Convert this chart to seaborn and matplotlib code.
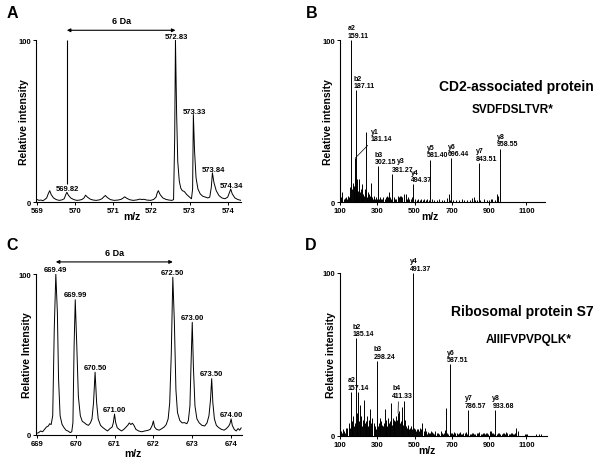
import matplotlib
matplotlib.use("Agg")
import matplotlib.pyplot as plt
import seaborn as sns

sns.set_theme(style="ticks", rc={"text.color": "black", "axes.labelcolor": "black",
                                 "xtick.color": "black", "ytick.color": "black",
                                 "axes.edgecolor": "black"})
plt.rcParams["font.family"] = ["Liberation Sans", "DejaVu Sans"]
plt.rcParams["font.weight"] = "bold"

# ---------------- panel A : MS profile, light/heavy pair (CD2-associated protein)
a_mz = [569.00, 569.05, 569.10, 569.15, 569.20, 569.25, 569.29, 569.33, 569.37, 569.43,
        569.50, 569.58, 569.65, 569.71, 569.75, 569.78, 569.82, 569.88, 569.96, 570.04,
        570.12, 570.18, 570.23, 570.27, 570.32, 570.39, 570.47, 570.55, 570.63, 570.70,
        570.75, 570.79, 570.84, 570.92, 571.02, 571.12, 571.20, 571.26, 571.30, 571.35,
        571.43, 571.52, 571.62, 571.70, 571.75, 571.80, 571.88, 571.98, 572.06, 572.12,
        572.15, 572.18, 572.23, 572.30, 572.38, 572.46, 572.54, 572.58, 572.61, 572.63,
        572.66, 572.69, 572.73, 572.77, 572.81, 572.86, 572.93, 573.00, 573.05, 573.08,
        573.10, 573.13, 573.17, 573.22, 573.28, 573.35, 573.42, 573.48, 573.53, 573.57,
        573.60, 573.64, 573.70, 573.77, 573.85, 573.93, 574.00, 574.05, 574.08, 574.12,
        574.19, 574.27, 574.35]
a_int = [1.5, 1.0, 1.2, 0.8, 1.5, 2.5, 5.0, 7.0, 4.5, 2.5,
         1.5, 1.0, 1.3, 2.0, 4.5, 6.0, 4.2, 2.5, 1.5, 1.0,
         1.2, 1.6, 2.5, 4.2, 3.0, 1.8, 1.2, 1.0, 1.3, 2.0,
         3.2, 4.0, 2.8, 1.5, 1.0, 1.2, 1.6, 2.5, 3.2, 2.3,
         1.4, 1.0, 1.3, 1.8, 1.5, 1.7, 1.2, 1.0, 1.6, 3.0,
         5.5, 7.0, 4.5, 2.5, 1.6, 1.2, 1.0, 1.5, 40, 100,
         55, 25, 13, 8.5, 7.0, 6.5, 4.5, 3.0, 2.0, 8,
         54, 32, 15, 8, 5, 3.5, 3.0, 2.5, 3.0, 9,
         18, 12, 7, 4, 2.5, 2.0, 3.0, 6.0, 8.0, 5.0,
         2.5, 1.5, 1.0]
a_peak_text = ["569.82", "572.83", "573.33", "573.84", "574.34"]
a_peak_mz = [569.78, 572.63, 573.10, 573.60, 574.08]
a_peak_int = [6, 100, 54, 18, 8]
a_ticks = [569, 570, 571, 572, 573, 574]

# ---------------- panel B : MS/MS sticks, SVDFDSLTVR*
b_mz = [112, 159.11, 181.14, 187.11, 193, 204, 218, 238, 250, 265,
        281, 302.15, 365, 381.27, 410, 428, 452, 494.37, 581.40, 683,
        696.44, 820, 843.51, 910, 945, 958.55]
b_int = [6, 100, 27, 69, 14, 14, 11, 43, 6, 12,
         4, 22, 6, 17, 4, 4, 5, 11, 26, 5,
         27, 3, 24, 2, 5, 33]
b_noise_mz = [104, 108, 121, 127, 133, 139, 143, 147, 151, 155,
              165, 169, 173, 177, 184, 190, 196, 200, 207, 211,
              214, 222, 226, 230, 234, 243, 247, 254, 258, 262,
              270, 274, 278, 286, 291, 296, 308, 313, 320, 327,
              333, 340, 346, 352, 358, 362, 369, 374, 389, 395,
              402, 416, 422, 435, 441, 446, 458, 465, 472, 480,
              487, 505, 512, 520, 528, 536, 545, 553, 560, 568,
              575, 592, 604, 618, 630, 645, 660, 672, 690, 705,
              720, 738, 752, 768, 780, 795, 808, 825, 835, 852,
              870, 888, 900, 918, 930, 940, 950]
b_noise_int = [2, 3, 2, 2.5, 3, 2, 4, 3, 9, 5,
               8, 12, 10, 6, 9, 5, 7, 4, 6, 8,
               3, 5, 3, 4, 8, 3, 2, 5, 3, 4,
               2, 3, 2, 2, 3, 2, 2, 3, 2, 2,
               3, 2, 3, 4, 3, 5, 3, 2, 3, 2,
               2, 3, 4, 3, 2, 5, 2, 3, 2, 2,
               3, 2, 1.5, 2, 1.5, 2, 1.5, 2, 1.5, 2,
               1.5, 2, 1, 1.5, 2, 1, 1.5, 2.5, 1, 1.5,
               1, 1.5, 2, 1.5, 1, 1.5, 2.5, 1.5, 1, 1.5,
               2, 1, 1.5, 2, 1.5, 1, 4]
b_ion = ["a2", "b2", "b3", "y4", "y5", "y6", "y7", "y8"]
b_ion_text = ["159.11", "187.11", "302.15", "494.37", "581.40", "696.44", "843.51", "958.55"]
b_ion_mz = [159.11, 187.11, 302.15, 494.37, 581.40, 696.44, 843.51, 958.55]
b_ion_int = [100, 69, 22, 11, 26, 27, 24, 33]
b_ticks = [100, 300, 500, 700, 900, 1100]

# ---------------- panel C : MS profile, light/heavy pair (ribosomal protein S7)
c_mz = [669.00, 669.05, 669.10, 669.15, 669.20, 669.25, 669.30, 669.33, 669.37, 669.41,
        669.45, 669.49, 669.53, 669.56, 669.60, 669.65, 669.70, 669.75, 669.80, 669.86,
        669.90, 669.93, 669.96, 669.99, 670.03, 670.07, 670.12, 670.17, 670.22, 670.28,
        670.33, 670.38, 670.42, 670.46, 670.50, 670.54, 670.58, 670.64, 670.70, 670.76,
        670.82, 670.88, 670.94, 670.97, 671.00, 671.03, 671.07, 671.12, 671.18, 671.24,
        671.30, 671.34, 671.38, 671.42, 671.46, 671.50, 671.55, 671.62, 671.70, 671.78,
        671.86, 671.92, 671.97, 672.00, 672.03, 672.08, 672.15, 672.22, 672.28, 672.33,
        672.38, 672.42, 672.46, 672.50, 672.54, 672.58, 672.62, 672.68, 672.74, 672.80,
        672.86, 672.90, 672.94, 672.97, 673.00, 673.03, 673.07, 673.12, 673.18, 673.25,
        673.32, 673.38, 673.43, 673.47, 673.50, 673.53, 673.57, 673.62, 673.68, 673.75,
        673.82, 673.88, 673.94, 673.97, 674.00, 674.03, 674.08, 674.13, 674.18, 674.22,
        674.26]
c_int = [1.0, 1.5, 2.5, 2.0, 3.5, 5.0, 5.6, 7.0, 6.5, 12,
         66, 100, 76, 35, 12, 6.6, 4.6, 3.0, 2.5, 1.5,
         2.0, 7.7, 55, 84, 55, 24, 12, 8.5, 7.7, 6.5,
         6.0, 7.5, 10, 20, 39, 20, 10, 6, 4.6, 3.5,
         2.5, 3.9, 5, 7.7, 13, 7.7, 4.5, 3.5, 2.5, 3.5,
         5.0, 6.0, 7.5, 6.5, 7.3, 6.0, 3.5, 2.5, 2.0, 2.5,
         2.9, 3.5, 6.0, 8.7, 5.0, 3.5, 3.0, 4.0, 5.0, 6.5,
         10, 20, 50, 98, 70, 28, 14, 9, 7.5, 7.7,
         7.0, 9.0, 18, 45, 70, 42, 18, 10, 7.5, 6.0,
         5.6, 7.5, 12, 22, 35, 20, 10, 6, 4.6, 3.5,
         3.0, 4.0, 5.6, 7, 10, 6, 3.5, 2.5, 4.0, 3.0,
         4.5]
c_peak_text = ["669.49", "669.99", "670.50", "671.00", "672.50", "673.00", "673.50", "674.00"]
c_peak_mz = [669.49, 669.99, 670.50, 671.00, 672.50, 673.00, 673.50, 674.00]
c_peak_int = [100, 84, 39, 13, 98, 70, 35, 10]
c_ticks = [669, 670, 671, 672, 673, 674]

# ---------------- panel D : MS/MS sticks, AIIIFVPVPQLK*
d_mz = [135.6, 157.14, 185.14, 198, 209, 228, 246, 262, 280, 298.24,
        317, 339, 358, 373, 387, 411.33, 417, 430, 444, 462,
        491.37, 519, 542, 670, 687.5, 786.57, 902, 933.68, 1045]
d_int = [5, 27, 60, 27, 19, 22, 12.5, 16.5, 8, 46,
         11, 16.5, 11, 20, 10, 14, 15.5, 17.5, 21.7, 7,
         100, 4, 8, 17, 44, 16, 3, 16, 5]
d_noise_mz = [104, 110, 116, 122, 128, 132, 140, 146, 150, 153,
              162, 167, 171, 175, 179, 189, 193, 202, 206, 214,
              219, 223, 232, 237, 241, 250, 255, 258, 266, 270,
              274, 285, 290, 294, 303, 308, 312, 321, 326, 330,
              335, 344, 349, 353, 362, 366, 370, 378, 383, 392,
              397, 401, 406, 421, 426, 435, 439, 449, 454, 458,
              467, 471, 477, 482, 487, 496, 502, 508, 514, 525,
              531, 536, 548, 555, 562, 570, 580, 590, 600, 612,
              625, 640, 655, 662, 676, 692, 700, 712, 725, 738,
              750, 762, 775, 795, 808, 820, 835, 848, 860, 872,
              885, 895, 912, 920, 940, 955, 968, 980, 992, 1005,
              1018, 1030, 1040, 1052, 1090, 1098, 1105, 1150, 1165, 1178]
d_noise_int = [3, 2, 4, 3, 2, 5, 4, 8, 6, 5,
               7, 9, 12, 6, 8, 10, 14, 9, 7, 12,
               6, 10, 8, 6, 9, 6, 10, 5, 8, 11,
               7, 5, 6, 4, 6, 8, 5, 9, 7, 6,
               8, 10, 7, 6, 8, 9, 6, 7, 11, 8,
               9, 12, 10, 8, 9, 11, 7, 10, 6, 5,
               6, 4, 5, 6, 4, 5, 4, 3, 4, 3,
               5, 4, 3, 5, 3, 2.5, 2, 3, 2, 3,
               2, 3, 2, 3.5, 2, 3, 2, 2.5, 2, 2,
               1.5, 2, 2.5, 1.5, 2, 1.5, 2, 2.5, 1.5, 2,
               2, 1.5, 3, 2, 1.5, 2, 1.5, 2, 2.5, 1.5,
               2, 1.5, 2, 3, 1.5, 1, 1.5, 1, 1.5, 1]
# low-level floor of small sticks in the upper m/z range
d_floor_mz = [558, 564, 576, 584, 594, 606, 618, 631, 646, 650,
              668, 680, 696, 706, 718, 731, 744, 756, 768, 781,
              788, 800, 814, 826, 841, 854, 866, 878, 890, 906,
              916, 926, 946, 960, 974, 986, 998, 1011, 1024, 1035,
              1046]
d_floor_int = [2, 1.5, 2, 1.5, 2.5, 1.5, 2, 1.5, 2, 1.5,
               2, 1.5, 2, 1.5, 2, 1.5, 2.5, 1.5, 2, 1.5,
               2, 1.5, 2, 1.5, 2, 1.5, 2, 1.5, 2, 1.5,
               2, 1.5, 2, 1.5, 2, 1.5, 2, 1.5, 2, 1.5,
               2]
d_ion = ["a2", "b2", "b3", "y4", "y6", "y7", "y8"]
d_ion_text = ["157.14", "185.14", "298.24", "491.37", "587.51", "786.57", "933.68"]
d_ion_mz = [157.14, 185.14, 298.24, 491.37, 687.5, 786.57, 933.68]
d_ion_int = [27, 60, 46, 100, 44, 16, 16]
d_ticks = [100, 300, 500, 700, 900, 1100]

W, H = 601, 464
fig = plt.figure(figsize=(W / 100, H / 100), dpi=100)


def rect(x0, x1, y100, y0):
    return [x0 / W, 1 - y0 / H, (x1 - x0) / W, (y0 - y100) / H]


ax_a = fig.add_axes(rect(36, 241, 41, 203))
ax_b = fig.add_axes(rect(340, 545, 41, 203))
ax_c = fig.add_axes(rect(36, 242, 275, 436))
ax_d = fig.add_axes(rect(340, 547, 274, 437))


def style(ax, xlim, ticks, ylabel, ylab_x, xlab_xy):
    ax.set_xlim(*xlim)
    ax.set_ylim(0, 100)
    ax.set_xticks(ticks)
    ax.set_yticks([0, 100])
    sns.despine(ax=ax)
    for s in ("left", "bottom"):
        ax.spines[s].set_linewidth(0.8)
    ax.tick_params(length=2.5, width=0.7, pad=1.2, labelsize=5.5)
    ax.set_ylabel(ylabel, fontsize=7.5, fontweight="bold")
    ax.set_xlabel("m/z", fontsize=7.5, fontweight="bold")
    ax.yaxis.set_label_coords(ylab_x, 0.5)
    ax.xaxis.set_label_coords(*xlab_xy)
    ax.xaxis.label.set_va("center")
    ax.grid(False)


def sticks(ax, mz, inten):
    ax.vlines(mz, 0, inten, colors="black", linewidth=0.7)


def ion_labels(ax, ions, texts, mz, inten, dx=-2.2):
    for n, t, m, h in zip(ions, texts, mz, inten):
        ax.annotate(f"{n}\n{t}", xy=(m, h), xytext=(dx, 1), textcoords="offset points",
                    ha="left", va="bottom", fontsize=5, linespacing=1.05,
                    annotation_clip=False)


# A
sns.lineplot(x=a_mz, y=a_int, ax=ax_a, color="black", linewidth=0.7, estimator=None)
style(ax_a, (568.97, 574.35), a_ticks, "Relative intensity", -0.034, (0.47, -0.088))
ax_a.vlines(a_peak_mz[0], 11, 100, colors="black", linewidth=0.8)
for t, m, h in zip(a_peak_text, a_peak_mz, a_peak_int):
    ax_a.annotate(t, xy=(m, h), xytext=(0.5, 0), textcoords="offset points",
                  ha="center", va="bottom", fontsize=5.5, annotation_clip=False)
ax_a.annotate("", xy=(a_peak_mz[0], 106), xytext=(a_peak_mz[1], 106),
              arrowprops=dict(arrowstyle="<|-|>", lw=0.8, color="black",
                              mutation_scale=5, shrinkA=0, shrinkB=0),
              annotation_clip=False)
ax_a.text((a_peak_mz[0] + a_peak_mz[1]) / 2, 109, "6 Da", ha="center", va="bottom",
          fontsize=6.5, clip_on=False)

# B
sticks(ax_b, b_noise_mz, b_noise_int)
sticks(ax_b, b_mz, b_int)
style(ax_b, (100, 1200), b_ticks, "Relative intensity", -0.034, (0.44, -0.088))
ion_labels(ax_b, b_ion, b_ion_text, b_ion_mz, b_ion_int)
# y3 label: ion name sits to the right of the b3 value
ax_b.annotate("381.27", xy=(381.27, 17), xytext=(-0.5, 1), textcoords="offset points",
              ha="left", va="bottom", fontsize=5, annotation_clip=False)
ax_b.annotate("y3", xy=(381.27, 17), xytext=(3.5, 7.3), textcoords="offset points",
              ha="left", va="bottom", fontsize=5, annotation_clip=False)
ax_b.annotate("y1\n181.14", xy=(181.14, 27), xytext=(266, 37), ha="left", va="bottom",
              fontsize=5, linespacing=1.05,
              arrowprops=dict(arrowstyle="-", lw=0.5, color="black", shrinkA=0, shrinkB=0,
                              relpos=(0, 0)))
ax_b.text(0.86, 0.716, "CD2-associated protein", transform=ax_b.transAxes, ha="center",
          va="center", fontsize=10, clip_on=False)
ax_b.text(0.84, 0.574, "SVDFDSLTVR*", transform=ax_b.transAxes, ha="center",
          va="center", fontsize=8.5, clip_on=False)

# C
sns.lineplot(x=c_mz, y=c_int, ax=ax_c, color="black", linewidth=0.7, estimator=None)
style(ax_c, (668.98, 674.28), c_ticks, "Relative Intensity", -0.02, (0.47, -0.11))
for t, m, h in zip(c_peak_text, c_peak_mz, c_peak_int):
    ax_c.annotate(t, xy=(m, h), xytext=(0, 1), textcoords="offset points",
                  ha="center", va="bottom", fontsize=5.5, annotation_clip=False)
ax_c.annotate("", xy=(c_peak_mz[0], 107.5), xytext=(c_peak_mz[4], 107.5),
              arrowprops=dict(arrowstyle="<|-|>", lw=0.8, color="black",
                              mutation_scale=5, shrinkA=0, shrinkB=0),
              annotation_clip=False)
ax_c.text((c_peak_mz[0] + c_peak_mz[4]) / 2, 110.5, "6 Da", ha="center", va="bottom",
          fontsize=6.5, clip_on=False)

# D
sticks(ax_d, d_noise_mz, d_noise_int)
sticks(ax_d, d_floor_mz, d_floor_int)
sticks(ax_d, d_mz, d_int)
style(ax_d, (100, 1210), d_ticks, "Relative intensity", -0.017, (0.42, -0.085))
ion_labels(ax_d, d_ion, d_ion_text, d_ion_mz, d_ion_int)
ax_d.annotate("b4\n411.33", xy=(411.33, 14), xytext=(380, 23), ha="left", va="bottom",
              fontsize=5, linespacing=1.05,
              arrowprops=dict(arrowstyle="-", lw=0.5, color="black", shrinkA=0, shrinkB=0,
                              relpos=(0.3, 0)))
ax_d.text(0.88, 0.767, "Ribosomal protein S7", transform=ax_d.transAxes, ha="center",
          va="center", fontsize=10, clip_on=False)
ax_d.text(0.91, 0.595, "AIIIFVPVPQLK*", transform=ax_d.transAxes, ha="center",
          va="center", fontsize=8.5, clip_on=False)

for lab, (px, py) in zip("ABCD", [(12, 13), (312, 13), (12, 245), (311, 245)]):
    fig.text(px / W, 1 - py / H, lab, ha="center", va="center", fontsize=11.5,
             fontweight="bold")

fig.savefig("out.png", dpi=100)
